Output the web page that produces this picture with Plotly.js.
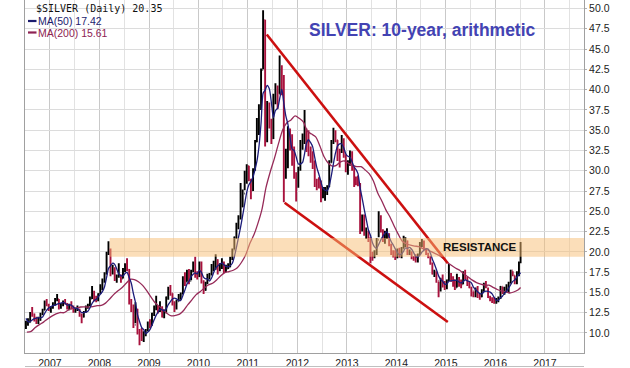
<!DOCTYPE html>
<html><head><meta charset="utf-8">
<script src="https://cdn.plot.ly/plotly-3.0.1.min.js"></script>
<style>html,body{margin:0;padding:0;background:#fff;}#chart{width:630px;height:368px;}</style>
</head><body><div id="chart"></div>
<script>
// Semi-monthly price bars, first half of July 2006 ... first days of July 2016
const high = [
 11.5,11.8,12.6,13.2,12.4,12.0,12.0,12.5,13.0,14.0,14.2,13.6,
 13.3,13.8,14.3,14.8,14.2,13.7,14.0,14.2,13.7,13.6,13.9,13.4,13.1,13.4,13.0,12.4,12.7,13.4,13.6,14.5,15.8,15.2,14.6,14.9,
 16.0,16.7,17.5,20.0,21.3,20.4,18.4,18.1,17.2,18.6,17.2,18.0,18.6,19.2,17.9,14.2,13.5,13.8,13.0,10.5,10.6,10.2,10.5,11.4,
 11.7,12.5,13.4,14.6,13.4,13.9,13.3,12.9,14.5,15.7,15.9,14.9,13.9,14.1,14.8,15.0,17.0,17.5,17.8,17.9,17.8,18.8,19.4,17.6,
 18.8,18.8,16.5,16.3,17.3,17.4,18.5,18.9,19.7,19.1,18.6,19.2,18.8,18.4,18.6,19.4,20.4,21.9,23.6,24.5,28.5,27.7,30.0,30.8,
 30.6,29.0,30.3,33.8,36.5,38.2,42.6,49.8,48.6,38.6,38.4,36.4,39.5,40.8,40.5,44.2,43.0,41.8,32.7,35.5,35.2,34.5,33.0,29.8,
 30.5,33.8,34.6,37.5,35.2,35.0,33.0,32.4,31.2,29.0,29.2,28.8,28.0,28.0,28.2,31.3,33.8,35.3,35.0,33.8,32.7,34.4,34.0,32.0,
 31.3,32.5,32.4,30.5,29.3,29.4,28.5,24.6,24.6,23.0,22.6,21.8,20.0,20.2,21.7,25.0,24.5,22.8,22.6,22.9,22.3,21.0,20.2,20.2,
 20.4,20.5,20.6,22.0,21.8,21.4,20.3,20.0,19.5,19.7,19.8,21.2,21.6,21.4,20.4,19.9,19.5,18.7,17.8,17.6,16.3,16.8,17.2,16.4,
 16.6,18.5,17.4,17.0,16.6,17.3,16.9,16.6,17.6,17.8,16.9,16.3,15.7,15.1,15.6,15.8,14.8,15.4,16.2,16.4,15.6,14.6,14.4,14.4,
 14.3,14.5,15.8,15.7,15.7,16.0,16.3,17.8,17.6,17.1,17.6,18.8,21.2
];
const low = [
 10.5,10.9,11.3,12.0,11.4,11.1,11.1,11.5,12.2,12.8,13.3,12.7,
 12.5,13.0,13.4,13.9,12.9,13.0,13.3,13.5,12.9,12.8,12.9,12.5,12.5,12.7,12.0,11.2,11.9,12.5,13.0,13.3,14.2,13.9,13.8,13.9,
 14.8,15.3,16.2,17.2,19.6,17.0,17.2,16.4,16.2,16.8,16.2,16.7,17.5,17.6,13.5,12.6,10.6,11.2,9.8,8.5,9.0,8.9,9.6,10.2,
 10.6,10.9,12.1,12.8,12.4,12.6,11.9,11.8,12.5,14.1,14.6,13.4,12.6,12.9,13.9,14.1,14.8,15.8,16.3,16.0,16.5,17.5,16.8,16.6,
 16.9,16.1,14.8,15.2,16.0,16.6,17.1,17.6,17.8,17.2,17.6,17.9,17.4,17.5,17.9,18.1,19.0,20.3,21.6,22.8,24.0,25.5,27.6,28.4,
 28.7,26.5,27.5,30.0,33.5,34.4,37.5,42.5,33.0,33.5,35.2,33.3,33.9,38.2,37.6,39.5,39.3,26.1,29.0,30.3,32.5,30.6,29.0,26.2,
 27.9,30.0,32.6,33.3,32.3,31.8,31.0,30.2,28.0,27.6,27.8,26.1,26.6,26.3,27.0,28.0,31.0,33.3,33.5,31.2,30.4,32.2,31.6,29.8,
 29.5,30.6,30.0,28.0,28.2,28.1,22.2,22.5,22.0,21.6,21.2,18.6,18.9,19.2,19.6,21.8,22.4,21.2,21.0,21.6,20.7,19.6,19.3,19.0,
 19.2,19.3,19.2,20.4,20.6,19.6,19.6,19.1,18.9,18.7,18.7,19.6,20.6,20.2,19.6,19.2,18.4,17.2,16.9,16.2,14.4,15.1,15.6,15.3,
 15.4,16.4,16.3,15.7,15.3,15.6,15.7,15.5,16.0,16.6,15.8,15.5,14.5,14.4,14.4,14.3,14.1,14.4,15.1,15.5,14.3,13.9,13.7,13.6,
 13.6,13.8,14.2,14.8,14.7,15.0,14.9,16.1,17.0,16.0,16.0,17.0,18.6
];
const close = [
 11.2,11.3,12.4,12.3,11.6,11.5,11.6,12.3,12.8,13.9,13.5,12.9,
 13.1,13.5,14.1,14.2,13.2,13.4,13.9,13.6,13.1,13.4,13.2,12.6,12.9,12.9,12.2,12.0,12.6,13.2,13.4,14.2,14.8,14.3,14.1,14.8,
 15.9,16.4,17.3,19.8,20.3,17.6,18.0,16.6,17.0,17.1,16.7,17.6,18.2,17.8,13.8,13.4,11.0,12.9,10.2,9.6,9.6,9.8,10.3,11.2,
 11.1,12.4,13.1,13.2,12.9,13.1,12.0,12.5,14.4,15.5,14.9,13.7,13.0,13.9,14.6,14.8,16.8,16.3,17.6,16.4,17.6,18.3,17.1,17.0,
 18.6,16.3,15.3,16.2,17.0,17.2,18.2,18.6,19.0,18.3,18.4,18.7,17.7,17.9,18.1,19.1,20.2,21.8,23.4,24.3,25.6,27.2,29.0,30.6,
 28.9,27.6,30.2,33.6,35.4,37.8,42.4,48.6,35.5,38.3,35.7,34.0,39.2,40.0,39.5,41.6,40.0,30.5,32.0,34.6,33.5,32.8,29.5,28.2,
 30.2,33.4,33.8,35.0,34.5,32.4,31.6,31.2,28.5,28.4,28.0,27.0,27.2,27.4,28.0,31.0,33.6,34.4,33.8,32.4,32.3,33.6,32.0,30.2,
 30.8,31.8,30.6,28.9,28.7,28.2,23.0,24.2,22.3,22.4,21.6,19.7,19.6,19.8,21.5,24.0,22.6,21.7,21.8,22.2,20.8,19.9,19.6,19.3,
 20.0,19.4,20.4,21.3,21.3,19.8,20.0,19.2,19.2,18.9,19.6,21.0,21.1,20.4,19.8,19.4,18.6,17.3,17.4,16.4,15.5,16.4,16.2,15.6,
 16.5,17.2,16.6,16.5,15.6,16.7,16.0,16.0,17.3,16.8,16.0,15.6,15.2,14.7,15.3,14.6,14.5,15.0,15.9,15.8,14.4,14.1,13.9,13.8,
 14.0,14.3,15.7,15.0,15.4,15.4,16.2,17.7,17.1,16.2,17.4,18.7,20.35
];
const firstOpen = 11.0;
const ma50 = [
 11.8,11.4,11.4,11.6,11.76,11.82,11.88,11.86,11.96,12.42,12.82,13.08,
 13.24,13.38,13.42,13.56,13.62,13.68,13.76,13.66,13.44,13.48,13.44,13.18,13.04,13.0,12.76,12.52,12.52,12.58,12.68,13.08,13.64,13.98,14.16,14.44,
 14.78,15.1,15.7,16.84,17.94,18.28,18.6,18.46,17.9,17.26,17.08,17.0,17.32,17.48,16.82,16.16,14.84,13.78,12.26,11.42,10.66,10.42,9.9,10.1,
 10.4,10.96,11.62,12.2,12.54,12.94,12.86,12.74,12.98,13.5,13.86,14.2,14.3,14.2,14.02,14.0,14.62,15.28,16.02,16.38,16.94,17.24,17.4,17.28,
 17.72,17.46,16.86,16.68,16.68,16.4,16.78,17.44,18.0,18.26,18.5,18.6,18.42,18.2,18.16,18.3,18.6,19.42,20.52,21.76,23.06,24.46,25.9,27.34,
 28.26,28.66,29.26,30.18,31.14,32.92,35.88,39.56,39.94,40.52,40.1,38.42,36.54,37.44,37.68,38.86,40.06,38.32,36.72,35.74,34.12,32.68,32.48,31.72,
 30.84,30.82,31.02,32.12,33.38,33.82,33.46,32.94,31.64,30.42,29.54,28.62,27.82,27.6,27.52,28.12,29.44,30.88,32.16,33.04,33.3,33.3,32.82,32.1,
 31.78,31.68,31.08,30.46,30.16,29.64,27.88,26.6,25.28,24.02,22.7,22.04,21.12,20.62,20.44,20.92,21.5,21.92,22.32,22.46,21.82,21.28,20.86,20.36,
 19.92,19.64,19.74,20.08,20.48,20.44,20.56,20.32,19.9,19.42,19.38,19.58,19.96,20.2,20.38,20.34,19.86,19.1,18.5,17.82,17.04,16.6,16.38,16.02,
 16.04,16.38,16.42,16.48,16.48,16.52,16.28,16.16,16.32,16.56,16.42,16.34,16.18,15.66,15.36,15.08,14.86,14.82,15.06,15.16,15.12,15.04,14.82,14.4,
 14.04,14.02,14.34,14.56,14.88,15.16,15.54,15.94,16.36,16.52,16.92,17.2,17.42
];
// Monthly MA(200), mid-July 2006 ... early July 2016
const ma200 = [
 10.1,10.19,10.67,11.03,11.34,11.73,
 12.08,12.36,12.52,12.5,12.82,13.02,13.07,13.2,13.22,13.18,13.24,13.36,
 13.39,13.68,14.16,14.73,15.17,15.58,16.09,16.6,16.58,16.32,15.86,15.22,
 14.44,13.72,13.3,12.9,12.41,12.1,12.17,12.32,12.8,13.49,14.11,14.73,
 15.12,15.57,15.92,16.13,16.54,17.06,17.45,17.57,17.73,18.04,18.72,19.61,
 21.02,22.13,23.48,25.28,27.97,29.88,31.5,33.37,35.04,35.92,36.27,36.76,
 36.46,35.98,34.87,34.52,34.18,33.06,31.76,30.96,30.58,30.67,31.09,31.2,
 30.88,30.66,30.5,30.5,30.1,29.61,28.73,27.3,26.26,25.18,24.27,23.18,
 22.15,21.27,21.0,20.82,20.71,20.65,20.4,20.26,20.02,19.78,19.53,19.15,
 18.66,18.29,17.98,17.69,17.26,16.89,16.51,16.21,16.02,15.9,15.89,15.63,
 15.36,15.16,15.1,14.93,15.05,15.3,15.61
];
const lastDate = '2016-07-05';
const yearLabels = ['2007','2008','2009','2010','2011','2012','2013','2014','2015','2016','2017'];
const yTicks = [10,12.5,15,17.5,20,22.5,25,27.5,30,32.5,35,37.5,40,42.5,45,47.5,50];
const upperChannelX = ['2011-05-20','2015-01-15'];
const upperChannelY = [46.8, 18.6];
const lowerChannelX = ['2011-09-29','2015-01-15'];
const lowerChannelY = [26.05, 11.36];
const bandStart = '2008-03-17';
const bandRange = [19.4, 21.7];
const resistanceLabel = {x:'2015-09-08', y:20.6, text:'RESISTANCE'};

function pad(n){return (n<10?'0':'')+n;}
function periodDate(i){
  const m = 6 + Math.floor(i/2);
  const y = 2006 + Math.floor(m/12);
  return y+'-'+pad(m%12+1)+'-'+(i%2?'23':'08');
}
const barDates = close.map((_,i)=> i===close.length-1 ? lastDate : periodDate(i));
const openVals = close.map((_,i)=> i===0 ? firstOpen : close[i-1]);
const ma200Dates = ma200.map((_,k)=>{
  if(k===ma200.length-1) return lastDate;
  const m = 6 + k; const y = 2006 + Math.floor(m/12);
  return y+'-'+pad(m%12+1)+'-15';
});
const yearTickVals = yearLabels.map(y=> y+'-01-01');
const midYearVals = yearLabels.slice(0,-1).map(y=> y+'-07-01').concat(['2006-07-01','2017-07-01']);

const traces = [
  {type:'ohlc', x:barDates, open:openVals, high:high, low:low, close:close,
   increasing:{line:{color:'#000000', width:1.9}},
   decreasing:{line:{color:'#a8123d', width:1.9}},
   tickwidth:0.35, hoverinfo:'none', showlegend:false},
  {type:'scatter', mode:'lines', x:ma200Dates, y:ma200, line:{color:'#962a58', width:1.3, shape:'spline', smoothing:0.8}, hoverinfo:'none', showlegend:false},
  {type:'scatter', mode:'lines', x:barDates, y:ma50, line:{color:'#1c1c7a', width:1.3, shape:'spline', smoothing:0.6}, hoverinfo:'none', showlegend:false}
];

const L=25, R=46, T=0, B=15, W=630, H=368;
const pw=W-L-R, ph=H-T-B;
const px=(x)=>(x-L)/pw, py=(y)=>(H-B-y)/ph;

const layout = {
  width:W, height:H, margin:{l:L, r:R, t:T, b:B, pad:0},
  paper_bgcolor:'#ffffff', plot_bgcolor:'#ffffff',
  font:{family:'Liberation Sans, Arial, sans-serif', size:10.5, color:'#222'},
  showlegend:false,
  xaxis:{type:'date', range:['2006-07-01','2017-10-16'], tickmode:'array', tickvals:yearTickVals, ticktext:yearLabels,
    showgrid:true, gridcolor:'#c9c9c9', gridwidth:1, ticks:'', showline:true, linecolor:'#a0a0a0', mirror:true,
    rangeslider:{visible:false}, zeroline:false, fixedrange:true,
    minor:{tickmode:'array', tickvals:midYearVals, showgrid:true, gridcolor:'#e2e2e2', gridwidth:1, ticks:''},
    tickfont:{size:10.5, color:'#222'}},
  yaxis:{side:'right', range:[7.53,51.05], tickmode:'array', tickvals:yTicks, ticktext:yTicks.map(v=>v.toFixed(1)),
    showgrid:true, gridcolor:'#dcdcdc', gridwidth:1, ticks:'outside', ticklen:2, tickcolor:'#b0b0b0',
    showline:true, linecolor:'#a0a0a0', mirror:true, zeroline:false, fixedrange:true,
    tickfont:{size:10.5, color:'#222'}},
  shapes:[
    {type:'line', xref:'x', yref:'y', x0:upperChannelX[0], y0:upperChannelY[0], x1:upperChannelX[1], y1:upperChannelY[1],
     line:{color:'#cc1010', width:2.6}, layer:'above'},
    {type:'line', xref:'x', yref:'y', x0:lowerChannelX[0], y0:lowerChannelY[0], x1:lowerChannelX[1], y1:lowerChannelY[1],
     line:{color:'#cc1010', width:2.6}, layer:'above'},
    {type:'rect', xref:'x', yref:'y', x0:bandStart, x1:'2017-10-16', y0:bandRange[0], y1:bandRange[1],
     fillcolor:'rgba(247,190,115,0.5)', line:{width:0}, layer:'above'},
    {type:'line', xref:'paper', yref:'paper', x0:px(28), x1:px(36.5), y0:py(21), y1:py(21), line:{color:'#1c1c6e', width:2.2}},
    {type:'line', xref:'paper', yref:'paper', x0:px(28), x1:px(36.5), y0:py(32.5), y1:py(32.5), line:{color:'#8e2252', width:2.2}},
    {type:'line', xref:'paper', yref:'paper', x0:px(25), x1:px(584), y0:py(366.5), y1:py(366.5), line:{color:'#c0c0c0', width:1}}
  ],
  annotations:[
    {xref:'paper', yref:'paper', x:px(307), y:py(30), xanchor:'left', yanchor:'middle', showarrow:false,
     text:'<b>SILVER: 10-year, arithmetic</b>', font:{family:'Liberation Sans, Arial, sans-serif', size:17.5, color:'#4343b3'}},
    {xref:'paper', yref:'paper', x:px(34), y:py(8.5), xanchor:'left', yanchor:'middle', showarrow:false,
     text:'$SILVER (Daily) 20.35', font:{family:'DejaVu Sans Mono, monospace', size:10, color:'#111'}},
    {xref:'paper', yref:'paper', x:px(36), y:py(21), xanchor:'left', yanchor:'middle', showarrow:false,
     text:'MA(50) 17.42', font:{family:'Liberation Sans, Arial, sans-serif', size:10.5, color:'#1c1c6e'}},
    {xref:'paper', yref:'paper', x:px(36), y:py(32.5), xanchor:'left', yanchor:'middle', showarrow:false,
     text:'MA(200) 15.61', font:{family:'Liberation Sans, Arial, sans-serif', size:10.5, color:'#8e2252'}},
    {xref:'x', yref:'y', x:resistanceLabel.x, y:resistanceLabel.y, xanchor:'center', yanchor:'middle', showarrow:false,
     text:'<b>'+resistanceLabel.text+'</b>', font:{family:'Liberation Sans, Arial, sans-serif', size:11.5, color:'#111'}}
  ]
};
Plotly.newPlot('chart', traces, layout, {staticPlot:true, displayModeBar:false});
</script></body></html>
